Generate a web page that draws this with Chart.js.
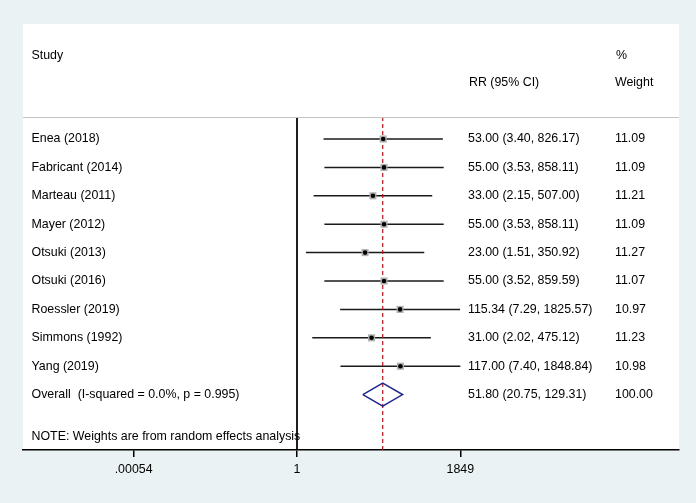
<!DOCTYPE html>
<html>
<head>
<meta charset="utf-8">
<script src="https://cdn.jsdelivr.net/npm/chart.js@4/dist/chart.umd.min.js"></script>
<style>
  html, body { margin: 0; padding: 0; background: #eaf2f3; }
  canvas { display: block; }
</style>
</head>
<body>
<canvas id="c" width="696" height="503"></canvas>
<script>
// ---- Data ----
const studies = ["Enea (2018)", "Fabricant (2014)", "Marteau (2011)", "Mayer (2012)", "Otsuki (2013)", "Otsuki (2016)", "Roessler (2019)", "Simmons (1992)", "Yang (2019)"];
const rr = [53.00, 55.00, 33.00, 55.00, 23.00, 55.00, 115.34, 31.00, 117.00];
const ciLow = [3.40, 3.53, 2.15, 3.53, 1.51, 3.52, 7.29, 2.02, 7.40];
const ciHigh = [826.17, 858.11, 507.00, 858.11, 350.92, 859.59, 1825.57, 475.12, 1848.84];
const weights = [11.09, 11.09, 11.21, 11.09, 11.27, 11.07, 10.97, 11.23, 10.98];
const overallLabel = "Overall  (I-squared = 0.0%, p = 0.995)";
const overallEst = [51.80, 20.75, 129.31]; // estimate, lower, upper
const overallWeight = [100.00];
const noteText = "NOTE: Weights are from random effects analysis";
const xTickValues = [0.00054, 1, 1849];
const xTickLabels = [".00054", "1", "1849"];

// ---- Layout constants (row units) ----
const Y_MIN = -3.05, Y_MAX = 11.95;
const X_MIN = Math.pow(10, -5.48), X_MAX = Math.pow(10, 7.64);
const SEP_ROW = 0.225;
const overallRow = studies.length + 1;
const FONT = '12.4px "Liberation Sans", Arial, sans-serif';

const datasets = [];
// reference line at 1
datasets.push({ order: 5, data: [{x:1, y:SEP_ROW}, {x:1, y:Y_MAX}], showLine: true, borderColor: '#000', borderWidth: 1, pointRadius: 0 });
// CI lines
studies.forEach((s, i) => {
  datasets.push({ order: 4, data: [{x:ciLow[i], y:i+1}, {x:ciHigh[i], y:i+1}], showLine: true, borderColor: '#1a1a1a', borderWidth: 1.5, pointRadius: 0 });
});
// overall dashed line
datasets.push({ order: 3, data: [{x:overallEst[0], y:SEP_ROW}, {x:overallEst[0], y:Y_MAX}], showLine: true, borderColor: '#b3161c', borderWidth: 1.2, borderDash: [4,3], pointRadius: 0 });
// weight boxes
datasets.push({ order: 2, data: rr.map((v,i)=>({x:v, y:i+1})), showLine: false, pointStyle: 'rect', pointRadius: 5, backgroundColor: '#b0b0b0', borderWidth: 0 });
// point estimates
datasets.push({ order: 1, data: rr.map((v,i)=>({x:v, y:i+1})), showLine: false, pointStyle: 'circle', pointRadius: 2.3, backgroundColor: '#000', borderWidth: 0 });
// overall diamond
datasets.push({ order: 0, data: [
  {x:overallEst[1], y:overallRow}, {x:overallEst[0], y:overallRow-0.405},
  {x:overallEst[2], y:overallRow}, {x:overallEst[0], y:overallRow+0.405},
  {x:overallEst[1], y:overallRow}
], showLine: true, borderColor: '#20268c', borderWidth: 1.5, pointRadius: 0, tension: 0 });

const bgPlugin = {
  id: 'bg',
  beforeDraw(chart) {
    const {ctx, chartArea: a} = chart;
    ctx.save();
    ctx.fillStyle = '#eaf2f3';
    ctx.fillRect(0, 0, chart.width, chart.height);
    ctx.fillStyle = '#ffffff';
    ctx.fillRect(a.left, a.top, a.right - a.left, a.bottom - a.top);
    ctx.restore();
  },
  afterDraw(chart) {
    const {ctx, chartArea: a, scales} = chart;
    const y = scales.y;
    ctx.save();
    // separator
    ctx.strokeStyle = '#c4c4c4';
    ctx.lineWidth = 1.2;
    const sy = Math.round(y.getPixelForValue(SEP_ROW)) + 0.5;
    ctx.beginPath(); ctx.moveTo(a.left, sy); ctx.lineTo(a.right, sy); ctx.stroke();

    ctx.font = FONT;
    ctx.fillStyle = '#000';
    ctx.textBaseline = 'middle';
    ctx.textAlign = 'left';
    const xStudy = a.left + 8.5, xRR = a.left + 445, xW = a.left + 592;
    ctx.fillText("Study", xStudy, y.getPixelForValue(-1.95));
    ctx.fillText("%", xW + 1, y.getPixelForValue(-1.95));
    ctx.fillText("RR (95% CI)", xRR + 1, y.getPixelForValue(-0.98));
    ctx.fillText("Weight", xW, y.getPixelForValue(-0.98));
    studies.forEach((s, i) => {
      const py = y.getPixelForValue(i + 1);
      ctx.fillText(s, xStudy, py);
      ctx.fillText(rr[i].toFixed(2) + " (" + ciLow[i].toFixed(2) + ", " + ciHigh[i].toFixed(2) + ")", xRR, py);
      ctx.fillText(weights[i].toFixed(2), xW, py);
    });
    const oy = y.getPixelForValue(overallRow);
    ctx.fillText(overallLabel, xStudy, oy);
    ctx.fillText(overallEst[0].toFixed(2) + " (" + overallEst[1].toFixed(2) + ", " + overallEst[2].toFixed(2) + ")", xRR, oy);
    ctx.fillText(overallWeight[0].toFixed(2), xW, oy);
    ctx.fillText(noteText, xStudy, y.getPixelForValue(11.49));
    ctx.restore();
  }
};

new Chart(document.getElementById('c'), {
  type: 'scatter',
  data: { datasets },
  plugins: [bgPlugin],
  options: {
    responsive: false,
    animation: false,
    devicePixelRatio: 1,
    layout: { padding: { left: 23, right: 17, top: 24, bottom: 0 } },
    plugins: { legend: { display: false }, tooltip: { enabled: false } },
    scales: {
      x: {
        type: 'logarithmic',
        min: X_MIN, max: X_MAX,
        afterBuildTicks(scale) { scale.ticks = xTickValues.map(v => ({ value: v })); },
        afterFit(scale) { scale.height = 53; },
        ticks: {
          autoSkip: false, maxRotation: 0, padding: 5,
          color: '#000', font: { family: '"Liberation Sans", Arial, sans-serif', size: 12.4 },
          callback(value, index) { return xTickLabels[index]; }
        },
        grid: { drawOnChartArea: false, drawTicks: true, tickLength: 7, color: '#000', lineWidth: 1.5 },
        border: { display: true, color: '#000', width: 1.5 }
      },
      y: {
        type: 'linear', reverse: true, min: Y_MIN, max: Y_MAX, display: false
      }
    }
  }
});
</script>
</body>
</html>
